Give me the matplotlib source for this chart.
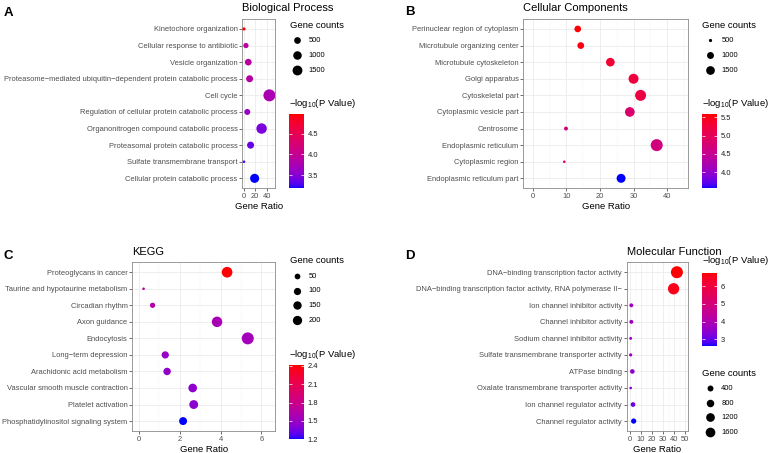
import numpy as np
import matplotlib
matplotlib.use("Agg")
import matplotlib.pyplot as plt
from matplotlib.colors import ListedColormap, Normalize

plt.rcParams['font.family'] = ['Liberation Sans', 'DejaVu Sans']
plt.rcParams['mathtext.fontset'] = 'custom'
plt.rcParams['mathtext.rm'] = 'Liberation Sans'
plt.rcParams['mathtext.it'] = 'Liberation Sans:italic'
plt.rcParams['mathtext.bf'] = 'Liberation Sans:bold'

W, H, DPI = 770, 453, 100

# ---------------- data ----------------
bp_terms = ["Kinetochore organization", "Cellular response to antibiotic", "Vesicle organization",
            "Proteasome\u2212mediated ubiquitin\u2212dependent protein catabolic process", "Cell cycle",
            "Regulation of cellular protein catabolic process", "Organonitrogen compound catabolic process",
            "Proteasomal protein catabolic process", "Sulfate transmembrane transport",
            "Cellular protein catabolic process"]
bp_ratio = [0.6, 4.0, 8.0, 10.3, 44.5, 6.3, 31.0, 12.0, 0.6, 19.0]
bp_count = [34, 220, 497, 570, 2500, 345, 1744, 570, 25, 1204]
bp_logp = [4.97, 3.93, 3.88, 3.86, 3.76, 3.62, 3.44, 3.36, 3.3, 3.18]
bp_size_breaks = [500, 1000, 1500]
bp_cbar_ticks = [3.5, 4.0, 4.5]

cc_terms = ["Perinuclear region of cytoplasm", "Microtubule organizing center", "Microtubule cytoskeleton",
            "Golgi apparatus", "Cytoskeletal part", "Cytoplasmic vesicle part", "Centrosome",
            "Endoplasmic reticulum", "Cytoplasmic region", "Endoplasmic reticulum part"]
cc_ratio = [13.4, 14.3, 23.1, 30.0, 32.1, 28.9, 9.9, 36.9, 9.4, 26.3]
cc_count = [934, 960, 1489, 1968, 2402, 1850, 537, 2890, 490, 1591]
cc_logp = [5.58, 5.51, 5.3, 5.22, 5.18, 4.82, 4.72, 4.68, 4.75, 3.56]
cc_size_breaks = [500, 1000, 1500]
cc_cbar_ticks = [4.0, 4.5, 5.0, 5.5]

kg_terms = ["Proteoglycans in cancer", "Taurine and hypotaurine metabolism", "Circadian rhythm",
            "Axon guidance", "Endocytosis", "Long\u2212term depression", "Arachidonic acid metabolism",
            "Vascular smooth muscle contraction", "Platelet activation",
            "Phosphatidylinositol signaling system"]
kg_ratio = [4.32, 0.24, 0.68, 3.83, 5.33, 1.30, 1.39, 2.64, 2.69, 2.17]
kg_count = [289, 8, 38, 275, 388, 101, 109, 166, 177, 131]
kg_logp = [2.41, 1.66, 1.64, 1.57, 1.55, 1.49, 1.47, 1.45, 1.44, 1.2]
kg_size_breaks = [50, 100, 150, 200]
kg_cbar_ticks = [1.2, 1.5, 1.8, 2.1, 2.4]

mf_terms = ["DNA\u2212binding transcription factor activity",
            "DNA\u2212binding transcription factor activity, RNA polymerase II\u2212",
            "Ion channel inhibitor activity", "Channel inhibitor activity",
            "Sodium channel inhibitor activity", "Sulfate transmembrane transporter activity",
            "ATPase binding", "Oxalate transmembrane transporter activity",
            "Ion channel regulator activity", "Channel regulator activity"]
mf_ratio = [42.4, 39.4, 1.2, 1.2, 0.6, 0.6, 2.1, 0.6, 2.7, 3.3]
mf_count = [2777, 2383, 110, 115, 60, 68, 182, 57, 190, 270]
mf_logp = [6.75, 6.54, 3.75, 3.75, 3.7, 3.62, 3.52, 3.35, 3.02, 2.63]
mf_size_breaks = [400, 800, 1200, 1600]
mf_cbar_ticks = [3, 4, 5, 6]


# ---------------- colour scale: blue -> red interpolated in Lab ----------------
def _srgb_to_lin(c):
    c = np.asarray(c, float)
    return np.where(c <= 0.04045, c / 12.92, ((c + 0.055) / 1.055) ** 2.4)


def _lin_to_srgb(c):
    c = np.clip(c, 0, 1)
    return np.where(c <= 0.0031308, 12.92 * c, 1.055 * c ** (1 / 2.4) - 0.055)


M = np.array([[0.4124, 0.3576, 0.1805], [0.2126, 0.7152, 0.0722], [0.0193, 0.1192, 0.9505]])
WHITE = np.array([0.95047, 1.0, 1.08883])


def _f(t):
    d = 6 / 29
    return np.where(t > d ** 3, np.cbrt(t), t / (3 * d * d) + 4 / 29)


def _finv(t):
    d = 6 / 29
    return np.where(t > d, t ** 3, 3 * d * d * (t - 4 / 29))


def rgb_to_lab(rgb):
    xyz = M @ _srgb_to_lin(rgb) / WHITE
    fx_, fy_, fz_ = _f(xyz)
    return np.array([116 * fy_ - 16, 500 * (fx_ - fy_), 200 * (fy_ - fz_)])


def lab_to_rgb(lab):
    L, a, b = lab
    fy_ = (L + 16) / 116
    fx_ = fy_ + a / 500
    fz_ = fy_ - b / 200
    xyz = np.array([_finv(fx_), _finv(fy_), _finv(fz_)]) * WHITE
    return _lin_to_srgb(np.linalg.solve(M, xyz))


lab_lo = rgb_to_lab([0, 0, 1])
lab_hi = rgb_to_lab([1, 0, 0])
cmap = ListedColormap([np.clip(lab_to_rgb(lab_lo + (lab_hi - lab_lo) * t), 0, 1)
                       for t in np.linspace(0, 1, 256)])

D_MIN, D_MAX = 2.6, 12.0   # rendered dot diameters in pixels (ggplot-like area scale)


def size_scale(v, vmin, vmax):
    r = (np.asarray(v, float) - vmin) / (vmax - vmin)
    d_px = D_MIN + (D_MAX - D_MIN) * np.sqrt(np.clip(r, 0, 1))
    return (d_px * 72.0 / DPI) ** 2


fig = plt.figure(figsize=(W / DPI, H / DPI), dpi=DPI)


def fx(x):
    return x / W


def fy(y):
    return 1 - y / H


def panel(box, terms, ratio, count, logp, xlim, xmajor, xminor, title, title_y,
          letter, letter_xy, size_breaks, leg_xy, cbar_box, cbar_ticks, cbar_fmt, cbar_title_y):
    l, t, r, b = box
    ax = fig.add_axes([fx(l), fy(b), (r - l) / W, (b - t) / H])
    n = len(terms)
    ypos = np.arange(n)[::-1]
    vmin, vmax = min(count), max(count)
    norm = Normalize(min(logp), max(logp))
    sc = ax.scatter(ratio, ypos, s=size_scale(count, vmin, vmax), c=logp, cmap=cmap, norm=norm,
                    linewidths=0, zorder=3)
    ax.set_xlim(*xlim)
    ax.set_ylim(-0.6, n - 0.4)
    ax.set_yticks(ypos)
    ax.set_yticklabels(terms)
    ax.set_xticks(xmajor)
    ax.set_xticks(xminor, minor=True)
    ax.set_axisbelow(True)
    ax.grid(which='major', color='#ebebeb', linewidth=0.6)
    ax.grid(which='minor', axis='x', color='#f3f3f3', linewidth=0.35)
    ax.tick_params(which='major', length=2.0, width=0.5, color='#333333', labelsize=5.4,
                   labelcolor='#4d4d4d', pad=1.5)
    ax.tick_params(which='minor', length=0)
    for s in ax.spines.values():
        s.set_color('#8a8a8a')
        s.set_linewidth(0.6)
    ax.set_xlabel('Gene Ratio', fontsize=6.8, labelpad=1.5)

    fig.text(fx(l), fy(title_y), title, fontsize=8, ha='left', va='baseline')
    fig.text(fx(letter_xy[0]), fy(letter_xy[1]), letter, fontsize=9.5, fontweight='bold',
             ha='left', va='baseline')

    # size legend
    handles = [ax.scatter([], [], s=size_scale(v, vmin, vmax), c='black', linewidths=0)
               for v in size_breaks]
    fig.legend(handles, [str(v) for v in size_breaks], title='Gene counts', loc='upper left',
               bbox_to_anchor=(fx(leg_xy[0]), fy(leg_xy[1])), bbox_transform=fig.transFigure,
               frameon=False, fontsize=5.4, title_fontsize=6.8, labelspacing=0.98,
               handletextpad=0.6, handlelength=1.9, borderpad=0, borderaxespad=0,
               alignment='left', scatterpoints=1)

    # colour bar
    cl, ct, cr, cbm = cbar_box
    cax = fig.add_axes([fx(cl), fy(cbm), (cr - cl) / W, (cbm - ct) / H])
    cb = fig.colorbar(sc, cax=cax)
    cb.outline.set_visible(False)
    cb.set_ticks(cbar_ticks)
    cb.set_ticklabels([cbar_fmt.format(v) for v in cbar_ticks])
    cax.yaxis.set_ticks_position('both')
    cax.tick_params(direction='in', length=2.5, width=0.5, color='white', labelsize=5.4,
                    labelcolor='#1a1a1a', pad=2.5, labelleft=False, labelright=True)
    cax.minorticks_off()
    fig.text(fx(cl), fy(cbar_title_y), r'$-\mathrm{log}_{10}$(P Value)', fontsize=6.8,
             ha='left', va='baseline')
    return ax


panel((242.3, 19, 275.2, 188.3), bp_terms, bp_ratio, bp_count, bp_logp, (-2.3, 54.5),
      [0, 20, 40], [10, 30, 50], 'Biological Process', 11.3, 'A', (4, 16.3),
      bp_size_breaks, (289.5, 20.8), (289, 114.3, 304.3, 188.3), bp_cbar_ticks, '{:.1f}', 106)

panel((523.3, 19, 688.3, 188.3), cc_terms, cc_ratio, cc_count, cc_logp, (-2.8, 46.3),
      [0, 10, 20, 30, 40], [5, 15, 25, 35, 45], 'Cellular Components', 11.3, 'B', (405.5, 15.3),
      cc_size_breaks, (702.5, 20.8), (701.7, 114.3, 717.3, 188.3), cc_cbar_ticks, '{:.1f}', 106)

panel((132.3, 262.3, 275.2, 431), kg_terms, kg_ratio, kg_count, kg_logp, (-0.31, 6.67),
      [0, 2, 4, 6], [1, 3, 5], 'KEGG', 255.3, 'C', (3.5, 258.7),
      kg_size_breaks, (289.5, 256.3), (289, 365.3, 304.3, 439.3), kg_cbar_ticks, '{:.1f}', 356.7)

panel((626.7, 262.3, 688.3, 431), mf_terms, mf_ratio, mf_count, mf_logp, (-3.0, 52.7),
      [0, 10, 20, 30, 40, 50], [5, 15, 25, 35, 45], 'Molecular Function', 255.3, 'D', (405, 259.3),
      mf_size_breaks, (702.5, 368.5), (701.7, 272.7, 717.3, 346), mf_cbar_ticks, '{:d}', 262.7)

fig.savefig('out.png', dpi=DPI)
